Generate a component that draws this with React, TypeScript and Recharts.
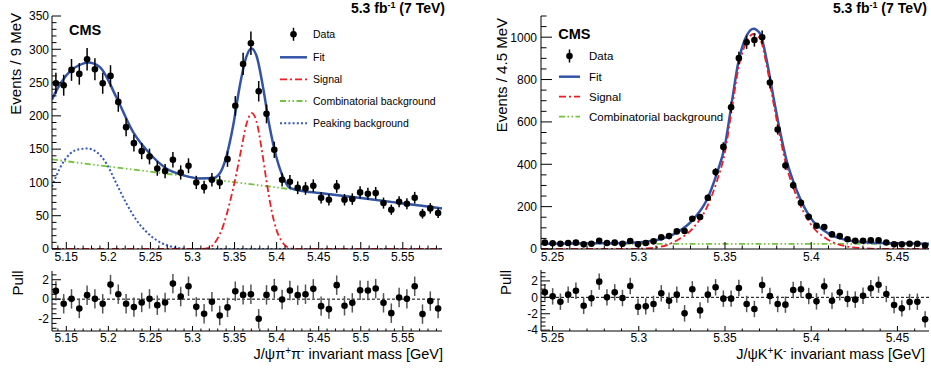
import React from 'react';
import { ComposedChart, Line, Scatter, ErrorBar, XAxis, YAxis, ReferenceLine } from 'recharts';

const FONT = '"Liberation Sans", Arial, Helvetica, sans-serif';
const FIT_BLUE = '#3354a6';
const SIG_RED = '#ec1f27';
const BKG_GREEN = '#74c33f';
const PEAK_BLUE = '#3658b8';

// ---------- left: J/psi pi+ pi- ----------
const LEFT_X_DOMAIN: [number, number] = [5.133, 5.5966];
const LEFT_BIN_START = 5.13764;
const LEFT_BIN_WIDTH = 0.009272;

const leftCounts = [
  249, 246, 269, 263, 285, 270, 249, 260, 221, 183,
  159, 147, 139, 121, 117, 134, 115, 125, 100, 93,
  104, 100, 135, 215, 278, 309, 237, 203, 149, 104,
  101, 92, 91, 95, 77, 74, 94, 74, 75, 85,
  83, 84, 69, 59, 71, 68, 77, 53, 61, 54,
];
const leftErrors = [
  15.8, 15.7, 16.4, 16.2, 16.9, 16.4, 15.8, 16.1, 14.9, 13.5,
  12.6, 12.1, 11.8, 11.0, 10.8, 11.6, 10.7, 11.2, 10.0, 9.6,
  10.2, 10.0, 11.6, 14.7, 16.7, 17.6, 15.4, 14.2, 12.2, 10.2,
  10.0, 9.6, 9.5, 9.7, 8.8, 8.6, 9.7, 8.6, 8.7, 9.2,
  9.1, 9.2, 8.3, 7.7, 8.4, 8.2, 8.8, 7.3, 7.8, 7.3,
];
const leftPulls = [
  0.85, -0.48, 0.03, -0.96, 0.41, 0.03, -0.48, 1.5, 0.51, -0.48,
  -0.82, -0.34, 0.03, -0.62, -0.34, 1.6, 0.27, 1.33, -0.79, -1.5,
  -0.27, -1.68, -0.85, 0.82, 0.44, 0.51, -2.02, 0.44, 1.09, -0.03,
  0.89, 0.41, 0.51, 1.06, -0.72, -1.03, 1.44, -0.68, -0.38, 0.92,
  0.89, 1.09, -0.38, -1.44, 0.17, 0.03, 1.33, -1.54, -0.2, -0.96,
];

const leftFit: [number, number][] = [
  [5.133, 224.5], [5.1374, 236], [5.1501, 261], [5.1699, 278.5], [5.1758, 280],
  [5.1897, 273.5], [5.2095, 228], [5.2293, 176], [5.2491, 143.5], [5.2689, 121],
  [5.2887, 111], [5.3085, 106], [5.3244, 106.5], [5.3323, 113.5], [5.3402, 138.5],
  [5.3481, 183.5], [5.356, 243.5], [5.364, 288.5], [5.3699, 301], [5.3759, 291],
  [5.3838, 243.5], [5.3917, 183.5], [5.3996, 138.5], [5.4075, 108.5], [5.4155, 92],
  [5.4273, 88], [5.451, 84], [5.5, 76.5], [5.55, 68.5], [5.5966, 61],
];
const leftSignal: [number, number][] = [
  [5.133, 0], [5.31, 0], [5.32, 2], [5.328, 12], [5.336, 33], [5.344, 68],
  [5.352, 112], [5.358, 150], [5.364, 187], [5.3705, 204], [5.376, 192],
  [5.382, 152], [5.388, 102], [5.394, 58], [5.4, 28], [5.406, 12],
  [5.414, 2], [5.422, 0], [5.5966, 0],
];
const leftCombinatorial: [number, number][] = [[5.133, 134.5], [5.5966, 61.5]];
const leftPeaking: [number, number][] = [
  [5.133, 93.5], [5.1422, 121], [5.154, 142.5], [5.1659, 150], [5.1746, 151],
  [5.1857, 146], [5.1976, 128.5], [5.2095, 98.5], [5.2214, 68.5], [5.2333, 43.5],
  [5.2451, 26], [5.257, 13.5], [5.2689, 6], [5.2808, 2], [5.2966, 0], [5.5966, 0],
];

// ---------- right: J/psi K+ K- ----------
const RIGHT_X_DOMAIN: [number, number] = [5.2433, 5.4683];
const RIGHT_BIN_START = 5.24555;
const RIGHT_BIN_WIDTH = 0.0045;

const rightCounts = [
  30, 27, 25, 28, 30, 22, 25, 39, 28, 30,
  25, 38, 22, 28, 36, 55, 61, 83, 85, 143,
  151, 242, 363, 482, 669, 901, 976, 987, 1000, 786,
  564, 394, 301, 218, 152, 110, 104, 69, 61, 46,
  39, 39, 41, 41, 31, 22, 22, 25, 25, 16,
];
const rightErrors = [
  5.5, 5.2, 5.0, 5.3, 5.5, 4.7, 5.0, 6.2, 5.3, 5.5,
  5.0, 6.2, 4.7, 5.3, 6.0, 7.4, 7.8, 9.1, 9.2, 12.0,
  12.3, 15.6, 19.1, 22.0, 25.9, 30.0, 31.2, 31.4, 31.6, 28.0,
  23.7, 19.8, 17.3, 14.8, 12.3, 10.5, 10.2, 8.3, 7.8, 6.8,
  6.2, 6.2, 6.4, 6.4, 5.6, 4.7, 4.7, 5.0, 5.0, 4.0,
];
const rightPulls = [
  0.61, 0.12, -0.53, 0.33, 0.81, -1.02, -0.12, 1.91, 0, 0.61,
  -0.08, 1.38, -1.14, -1.1, -0.81, 0.49, -0.41, 0.33, -1.95, 0.98,
  -1.59, 0.33, 1.22, -0.16, -0.16, 1.14, -0.81, -1.42, 1.5, 0.16,
  -0.81, -0.89, 0.89, 0.98, 0.16, -0.49, 1.34, -0.41, 0.61, -0.2,
  -0.28, 0.2, 1.1, 1.54, 0.41, -0.93, -1.34, -0.57, -0.53, -2.68,
];

const rightFit: [number, number][] = [
  [5.2433, 25], [5.2601, 26], [5.2794, 27], [5.2987, 31], [5.3123, 46],
  [5.322, 77], [5.3316, 140], [5.3394, 231], [5.3452, 355], [5.35, 490],
  [5.3539, 690], [5.3577, 880], [5.3616, 990], [5.3665, 1040], [5.3704, 1016],
  [5.3742, 890], [5.3781, 717], [5.382, 552], [5.3858, 415], [5.3897, 317],
  [5.3935, 239], [5.3974, 176], [5.4013, 129], [5.4071, 89], [5.4129, 61],
  [5.4206, 42], [5.4303, 33], [5.4399, 28], [5.4496, 27], [5.4683, 25],
];
const rightSignal: [number, number][] = [
  [5.2433, 0], [5.2987, 1], [5.3123, 10], [5.322, 40], [5.3316, 100],
  [5.3394, 195], [5.3452, 318], [5.35, 458], [5.3539, 655], [5.3577, 850],
  [5.3616, 962], [5.3665, 1015], [5.3704, 990], [5.3742, 865], [5.3781, 690],
  [5.382, 525], [5.3858, 385], [5.3897, 288], [5.3935, 210], [5.3974, 148],
  [5.4013, 100], [5.4071, 58], [5.4129, 30], [5.4206, 12], [5.4303, 4],
  [5.4399, 0], [5.4683, 0],
];
const rightCombinatorial: [number, number][] = [[5.2433, 24], [5.4683, 24]];

// ---------- helpers ----------
const curve = (c: [number, number][]) => c.map(([x, y]) => ({ x, y }));
const bins = (start: number, width: number, ys: number[], errs: number[] | null) =>
  ys.map((y, i) => ({ x: start + i * width, y, e: errs ? errs[i] : 1 }));

const steps = (from: number, to: number, step: number) => {
  const out: number[] = [];
  const n = Math.round((to - from) / step);
  for (let i = 0; i <= n; i++) out.push(+(from + i * step).toFixed(4));
  return out;
};

const isMajor = (v: number, step: number) => Math.abs(v / step - Math.round(v / step)) < 1e-6;
const fmtMass = (v: number) => String(+v.toFixed(2));

type TickCfg = { major: number; len: number; minorLen: number; fontSize: number; gap: number };

function YTick(props: any) {
  const { x, y, payload, cfg } = props as { x: number; y: number; payload: { value: number }; cfg: TickCfg };
  const v = payload.value;
  const major = isMajor(v, cfg.major);
  return (
    <g>
      <line x1={x} y1={y} x2={x + (major ? cfg.len : cfg.minorLen)} y2={y} stroke="#000" strokeWidth={1} />
      {major && (
        <text x={x - cfg.gap} y={y} dy="0.36em" textAnchor="end" fontSize={cfg.fontSize} fontFamily={FONT} fill="#000">
          {String(v)}
        </text>
      )}
    </g>
  );
}

function XTick(props: any) {
  const { x, y, payload, cfg } = props as { x: number; y: number; payload: { value: number }; cfg: TickCfg };
  const v = payload.value;
  const major = isMajor(v, cfg.major);
  return (
    <g>
      <line x1={x} y1={y} x2={x} y2={y - (major ? cfg.len : cfg.minorLen)} stroke="#000" strokeWidth={1} />
      {major && (
        <text x={x} y={y + cfg.gap} textAnchor="middle" fontSize={cfg.fontSize} fontFamily={FONT} fill="#000">
          {fmtMass(v)}
        </text>
      )}
    </g>
  );
}

const Dot = (p: any) => <circle cx={p.cx} cy={p.cy} r={3.3} fill="#000" />;

type FrameProps = {
  width: number;
  height: number;
  margin: { top: number; right: number; bottom: number; left: number };
  yWidth: number;
  xHeight: number;
  xDomain: [number, number];
  yDomain: [number, number];
  xTicks: number[];
  yTicks: number[];
  xCfg: TickCfg;
  yCfg: TickCfg;
  children: React.ReactNode;
};

function Frame({ width, height, margin, yWidth, xHeight, xDomain, yDomain, xTicks, yTicks, xCfg, yCfg, children }: FrameProps) {
  return (
    <ComposedChart width={width} height={height} margin={margin}>
      <XAxis
        type="number"
        dataKey="x"
        domain={xDomain}
        allowDataOverflow
        ticks={xTicks}
        interval={0}
        tickSize={0}
        tickMargin={0}
        tickLine={false}
        height={xHeight}
        stroke="#000"
        tick={(p: any) => <XTick {...p} cfg={xCfg} />}
      />
      <XAxis xAxisId="top" orientation="top" type="number" domain={xDomain} allowDataOverflow height={0} tick={false} tickLine={false} stroke="#000" />
      <YAxis
        type="number"
        dataKey="y"
        domain={yDomain}
        allowDataOverflow
        ticks={yTicks}
        interval={0}
        tickSize={0}
        tickMargin={0}
        tickLine={false}
        width={yWidth}
        stroke="#000"
        tick={(p: any) => <YTick {...p} cfg={yCfg} />}
      />
      <YAxis yAxisId="right" orientation="right" type="number" domain={yDomain} allowDataOverflow width={0} tick={false} tickLine={false} stroke="#000" />
      {children}
    </ComposedChart>
  );
}

const leftData = bins(LEFT_BIN_START, LEFT_BIN_WIDTH, leftCounts, leftErrors);
const leftPullData = bins(LEFT_BIN_START, LEFT_BIN_WIDTH, leftPulls, null);
const rightData = bins(RIGHT_BIN_START, RIGHT_BIN_WIDTH, rightCounts, rightErrors);
const rightPullData = bins(RIGHT_BIN_START, RIGHT_BIN_WIDTH, rightPulls, null);

const leftXTicks = steps(5.14, 5.59, 0.01);
const rightXTicks = steps(5.25, 5.46, 0.01);

const mainX: TickCfg = { major: 0.05, len: 7, minorLen: 3.5, fontSize: 12, gap: 12 };
const pullX: TickCfg = { major: 0.05, len: 5, minorLen: 2.5, fontSize: 12, gap: 11 };
const leftY: TickCfg = { major: 50, len: 9, minorLen: 4.5, fontSize: 12, gap: 3 };
const rightY: TickCfg = { major: 200, len: 11, minorLen: 5.5, fontSize: 12, gap: 4 };
const pullY: TickCfg = { major: 2, len: 9, minorLen: 4.5, fontSize: 12, gap: 3 };

const FIT = { stroke: FIT_BLUE, strokeWidth: 2.5 };
const SIG = { stroke: SIG_RED, strokeWidth: 1.8, strokeDasharray: '7 3 2 3' };
const BKG = { stroke: BKG_GREEN, strokeWidth: 1.8, strokeDasharray: '6 2.5 1.5 2.5 1.5 2.5' };
const PEAK = { stroke: PEAK_BLUE, strokeWidth: 2, strokeDasharray: '2 2.2' };

function LegendRow({ x, y, textX, fontSize, label, kind }: { x: [number, number]; y: number; textX: number; fontSize: number; label: string; kind: any }) {
  return (
    <g>
      {kind === 'data' ? (
        <g>
          <line x1={(x[0] + x[1]) / 2} x2={(x[0] + x[1]) / 2} y1={y - 6.5} y2={y + 6.5} stroke="#000" strokeWidth={1.5} />
          <circle cx={(x[0] + x[1]) / 2} cy={y} r={3.3} fill="#000" />
        </g>
      ) : (
        <line x1={x[0]} x2={x[1]} y1={y} y2={y} fill="none" {...kind} />
      )}
      <text x={textX} y={y} dy="0.36em" fontSize={fontSize} fontFamily={FONT} fill="#000">
        {label}
      </text>
    </g>
  );
}

export default function App() {
  return (
    <div style={{ position: 'absolute', left: 0, top: 0, width: 931, height: 369, background: '#fff', overflow: 'hidden' }}>
      <div style={{ position: 'absolute', left: 0, top: 0 }}>
        <Frame
          width={460} height={270} margin={{ top: 16, right: 18, bottom: 1, left: 0 }}
          yWidth={52} xHeight={20} xDomain={LEFT_X_DOMAIN} yDomain={[0, 350]}
          xTicks={leftXTicks} yTicks={steps(0, 350, 10)} xCfg={mainX} yCfg={leftY}
        >
          <Line data={curve(leftCombinatorial)} dataKey="y" type="linear" dot={false} activeDot={false} isAnimationActive={false} {...BKG} />
          <Line data={curve(leftPeaking)} dataKey="y" type="monotone" dot={false} activeDot={false} isAnimationActive={false} {...PEAK} />
          <Line data={curve(leftSignal)} dataKey="y" type="monotone" dot={false} activeDot={false} isAnimationActive={false} {...SIG} />
          <Line data={curve(leftFit)} dataKey="y" type="monotone" dot={false} activeDot={false} isAnimationActive={false} {...FIT} />
          <Scatter data={leftData} dataKey="y" shape={Dot} isAnimationActive={false}>
            <ErrorBar dataKey="e" direction="y" width={0} stroke="#000" strokeWidth={1.5} />
          </Scatter>
        </Frame>
      </div>
      <div style={{ position: 'absolute', left: 0, top: 262 }}>
        <Frame
          width={460} height={85} margin={{ top: 9, right: 18, bottom: 1, left: 0 }}
          yWidth={52} xHeight={15} xDomain={LEFT_X_DOMAIN} yDomain={[-3.28, 2.9]}
          xTicks={leftXTicks} yTicks={steps(-3, 2.5, 0.5)} xCfg={pullX} yCfg={pullY}
        >
          <ReferenceLine y={0} stroke="#000" strokeWidth={1} strokeDasharray="3 2" />
          <Scatter data={leftPullData} dataKey="y" shape={Dot} isAnimationActive={false}>
            <ErrorBar dataKey="e" direction="y" width={0} stroke="#555" strokeWidth={1.5} />
          </Scatter>
        </Frame>
      </div>
      <div style={{ position: 'absolute', left: 470, top: 0 }}>
        <Frame
          width={461} height={270} margin={{ top: 16, right: 2, bottom: 1, left: 0 }}
          yWidth={71} xHeight={20} xDomain={RIGHT_X_DOMAIN} yDomain={[0, 1100]}
          xTicks={rightXTicks} yTicks={steps(0, 1100, 50)} xCfg={mainX} yCfg={rightY}
        >
          <Line data={curve(rightCombinatorial)} dataKey="y" type="linear" dot={false} activeDot={false} isAnimationActive={false} {...BKG} />
          <Line data={curve(rightFit)} dataKey="y" type="monotone" dot={false} activeDot={false} isAnimationActive={false} {...FIT} />
          <Line data={curve(rightSignal)} dataKey="y" type="monotone" dot={false} activeDot={false} isAnimationActive={false} {...SIG} />
          <Scatter data={rightData} dataKey="y" shape={Dot} isAnimationActive={false}>
            <ErrorBar dataKey="e" direction="y" width={0} stroke="#000" strokeWidth={1.5} />
          </Scatter>
        </Frame>
      </div>
      <div style={{ position: 'absolute', left: 470, top: 262 }}>
        <Frame
          width={461} height={85} margin={{ top: 8, right: 2, bottom: 1, left: 0 }}
          yWidth={71} xHeight={15} xDomain={RIGHT_X_DOMAIN} yDomain={[-4.1, 3.33]}
          xTicks={rightXTicks} yTicks={steps(-4, 3, 0.5)} xCfg={pullX} yCfg={pullY}
        >
          <ReferenceLine y={0} stroke="#000" strokeWidth={1} strokeDasharray="3 2" />
          <Scatter data={rightPullData} dataKey="y" shape={Dot} isAnimationActive={false}>
            <ErrorBar dataKey="e" direction="y" width={0} stroke="#555" strokeWidth={1.5} />
          </Scatter>
        </Frame>
      </div>

      <svg width={931} height={369} style={{ position: 'absolute', left: 0, top: 0, pointerEvents: 'none' }} fontFamily={FONT}>
        {/* left panel texts */}
        <text x={445} y={13.3} textAnchor="end" fontSize={14} fontWeight="bold">
          5.3 fb<tspan dy={-5} fontSize={9}>-1</tspan><tspan dy={5}> (7 TeV)</tspan>
        </text>
        <text x={69} y={35} fontSize={14.5} fontWeight="bold">CMS</text>
        <text transform="translate(21,13) rotate(-90)" textAnchor="end" fontSize={15}>Events / 9 MeV</text>
        <text transform="translate(23,270.5) rotate(-90)" textAnchor="end" fontSize={15}>Pull</text>
        <text x={443} y={359} textAnchor="end" fontSize={14.5}>
          J/ψπ<tspan dy={-5} fontSize={10}>+</tspan><tspan dy={5}>π</tspan><tspan dy={-5} fontSize={10}>-</tspan><tspan dy={5}> invariant mass [GeV]</tspan>
        </text>
        <LegendRow x={[280, 307]} y={34.3} textX={313} fontSize={10.5} label="Data" kind="data" />
        <LegendRow x={[280, 307]} y={57.3} textX={313} fontSize={10.5} label="Fit" kind={FIT} />
        <LegendRow x={[280, 307]} y={79.3} textX={313} fontSize={10.5} label="Signal" kind={SIG} />
        <LegendRow x={[280, 307]} y={101} textX={313} fontSize={10.5} label="Combinatorial background" kind={BKG} />
        <LegendRow x={[280, 307]} y={123.3} textX={313} fontSize={10.5} label="Peaking background" kind={PEAK} />

        {/* right panel texts */}
        <text x={927} y={13.3} textAnchor="end" fontSize={14} fontWeight="bold">
          5.3 fb<tspan dy={-5} fontSize={9}>-1</tspan><tspan dy={5}> (7 TeV)</tspan>
        </text>
        <text x={558.3} y={39} fontSize={14.5} fontWeight="bold">CMS</text>
        <text transform="translate(506.5,18) rotate(-90)" textAnchor="end" fontSize={15}>Events / 4.5 MeV</text>
        <text transform="translate(510.5,270) rotate(-90)" textAnchor="end" fontSize={15}>Pull</text>
        <text x={925} y={359} textAnchor="end" fontSize={14.5}>
          J/ψK<tspan dy={-5} fontSize={10}>+</tspan><tspan dy={5}>K</tspan><tspan dy={-5} fontSize={10}>-</tspan><tspan dy={5}> invariant mass [GeV]</tspan>
        </text>
        <LegendRow x={[559, 580]} y={56} textX={589} fontSize={11.5} label="Data" kind="data" />
        <LegendRow x={[559, 580]} y={76.7} textX={589} fontSize={11.5} label="Fit" kind={FIT} />
        <LegendRow x={[559, 580]} y={96.7} textX={589} fontSize={11.5} label="Signal" kind={SIG} />
        <LegendRow x={[559, 580]} y={116.7} textX={589} fontSize={11.5} label="Combinatorial background" kind={BKG} />
      </svg>
    </div>
  );
}
